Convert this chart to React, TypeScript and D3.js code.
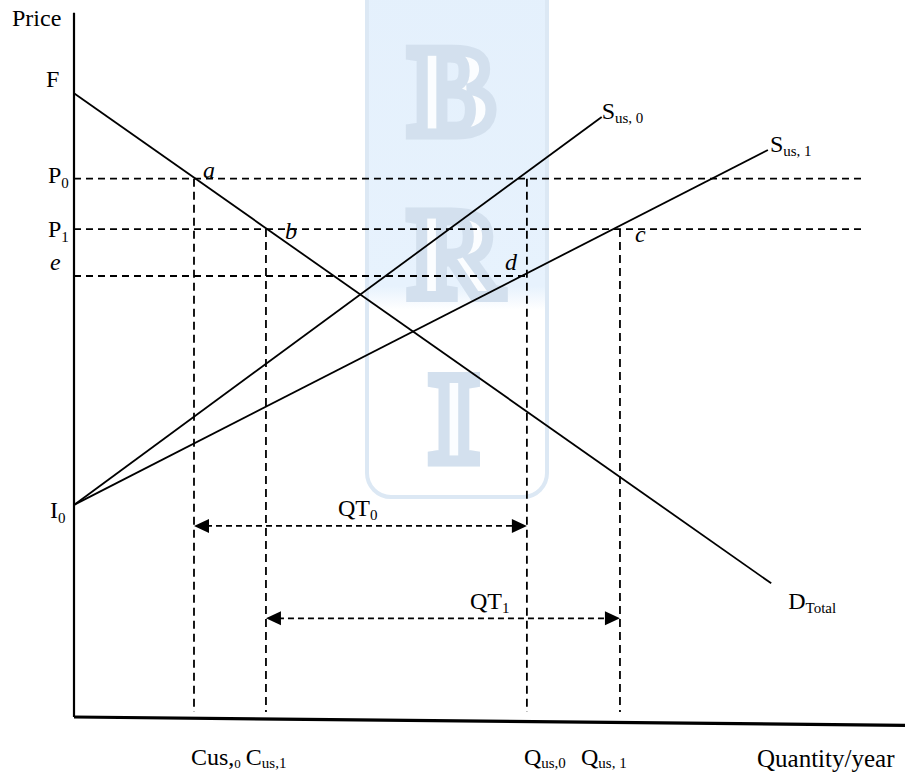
import React from 'react';
import * as d3 from 'd3';

// ---- data (abstract units: quantity 0..100, price 0..100) ----
const demandTotal: [number, number][] = [[0, 89.1], [83.9, 19.1]];
const supplyUs0: [number, number][] = [[0, 30.3], [63.5, 85.7]];
const supplyUs1: [number, number][] = [[0, 30.3], [83.5, 81.0]];
const priceLevels = [
  { name: 'P0', p: 76.9, qEnd: 95.2 },
  { name: 'P1', p: 69.7, qEnd: 95.2 },
  { name: 'e', p: 63.0, qEnd: 54.5 },
];
const quantityLevels = [
  { name: 'Cus0', q: 14.44, pTop: 76.9 },
  { name: 'Cus1', q: 23.1, pTop: 69.7 },
  { name: 'Qus0', q: 54.5, pTop: 76.9 },
  { name: 'Qus1', q: 65.7, pTop: 69.7 },
];
const tradeArrows = [
  { name: 'QT0', p: 27.3, q0: 14.44, q1: 54.5 },
  { name: 'QT1', p: 14.1, q0: 23.1, q1: 65.7 },
];
const xAxisLine: [number, number][] = [[0, 0], [100, -1.2]];
const yAxisTop = 100.6;
const verticalBottom = 0.7;

const SERIF = '"Liberation Serif", "Times New Roman", serif';

export default function App() {
  const x = d3.scaleLinear().domain([0, 100]).range([74, 905]);
  const y = d3.scaleLinear().domain([0, 100]).range([717, 17]);
  const line = d3.line<[number, number]>().x(d => x(d[0])).y(d => y(d[1]));

  const sub = (t: string, fs = 15, dy = 5) => (
    <tspan fontSize={fs} dy={dy}>{t}</tspan>
  );

  const arrowHead = (tipX: number, tipY: number, dir: number) => {
    const len = 15, half = 7;
    return `M${tipX},${tipY}L${tipX - dir * len},${tipY - half}L${tipX - dir * len},${tipY + half}Z`;
  };

  return (
    <svg width={905} height={776} style={{ position: 'absolute', left: 0, top: 0, display: 'block', background: '#fff' }}
      fontFamily={SERIF}>
      <defs>
        <linearGradient id="wm" gradientUnits="userSpaceOnUse" x1="0" y1="-30" x2="0" y2="497">
          <stop offset="0" stopColor="#e4f0fc" />
          <stop offset="0.6" stopColor="#e7f2fd" />
          <stop offset="0.645" stopColor="#ffffff" />
          <stop offset="1" stopColor="#ffffff" />
        </linearGradient>
      </defs>
      {/* watermark */}
      <g>
        <rect x={367} y={-30} width={180} height={527} rx={24} fill="url(#wm)" stroke="#dce8f4" strokeWidth={4} />
        <g fontSize={128} fontWeight="bold" textAnchor="middle" fill="#fbfdff" stroke="#d3e0ee" strokeWidth={11}>
          <text x={452} y={134}>B</text>
          <text x={455} y={296}>R</text>
          <text x={454} y={461}>I</text>
        </g>
      </g>

      {/* axes */}
      <line x1={x(0)} y1={y(yAxisTop)} x2={x(0)} y2={y(0)} stroke="#000" strokeWidth={2.2} />
      <path d={line(xAxisLine) || ''} stroke="#000" strokeWidth={3.2} fill="none" />

      {/* dashed price levels */}
      {priceLevels.map(l => (
        <line key={l.name} x1={x(0)} x2={x(l.qEnd)} y1={y(l.p)} y2={y(l.p)}
          stroke="#000" strokeWidth={1.8} strokeDasharray="7,5" />
      ))}
      {/* dashed quantity levels */}
      {quantityLevels.map(l => (
        <line key={l.name} x1={x(l.q)} x2={x(l.q)} y1={y(l.pTop)} y2={y(verticalBottom)}
          stroke="#000" strokeWidth={1.8} strokeDasharray="8,5" />
      ))}

      {/* curves */}
      {[demandTotal, supplyUs0, supplyUs1].map((d, i) => (
        <path key={i} d={line(d) || ''} fill="none" stroke="#000" strokeWidth={1.8} />
      ))}

      {/* trade arrows */}
      {tradeArrows.map(a => (
        <g key={a.name}>
          <line x1={x(a.q0) + 12} x2={x(a.q1) - 12} y1={y(a.p)} y2={y(a.p)} stroke="#000" strokeWidth={1.8} strokeDasharray="6,4" />
          <path d={arrowHead(x(a.q0), y(a.p), -1)} fill="#000" />
          <path d={arrowHead(x(a.q1), y(a.p), 1)} fill="#000" />
        </g>
      ))}

      {/* labels */}
      <g fontSize={24} fill="#000">
        <text x={12} y={26}>Price</text>
        <text x={46} y={y(demandTotal[0][1]) - 6}>F</text>
        <text x={48} y={y(priceLevels[0].p) + 4}>P{sub('0')}</text>
        <text x={48} y={y(priceLevels[1].p) + 8}>P{sub('1')}</text>
        <text x={50} y={y(priceLevels[2].p) - 6} fontStyle="italic">e</text>
        <text x={50} y={y(supplyUs0[0][1]) + 13}>I{sub('0')}</text>

        <text x={x(quantityLevels[0].q) + 9} y={y(priceLevels[0].p) - 1} fontStyle="italic">a</text>
        <text x={x(quantityLevels[1].q) + 19} y={y(priceLevels[1].p) + 10} fontStyle="italic">b</text>
        <text x={x(quantityLevels[3].q) + 15} y={y(priceLevels[1].p) + 13} fontStyle="italic">c</text>
        <text x={x(quantityLevels[2].q) - 22} y={y(priceLevels[2].p) - 6} fontStyle="italic">d</text>

        <text x={x(supplyUs0[1][0])} y={y(supplyUs0[1][1]) + 2}>S{sub('us, 0', 15, 4)}</text>
        <text x={x(supplyUs1[1][0]) + 2} y={y(supplyUs1[1][1]) + 2}>S{sub('us, 1', 15, 4)}</text>
        <text x={x(demandTotal[1][0]) + 17} y={y(demandTotal[1][1]) + 26}>D{sub('Total', 15, 4)}</text>

        <text x={x(tradeArrows[0].q0) + 144} y={y(tradeArrows[0].p) - 10}>QT{sub('0', 15, 4)}</text>
        <text x={x(tradeArrows[1].q0) + 204} y={y(tradeArrows[1].p) - 9}>QT{sub('1', 15, 4)}</text>

        <text x={x(quantityLevels[0].q) - 3} y={765}>Cus,{sub('0', 13, 3)}<tspan dy={-3} dx={5} fontSize={24}>C</tspan>{sub('us,1', 15, 3)}</text>
        <text x={x(quantityLevels[2].q) - 3} y={765}>Q{sub('us,0', 15, 3)}</text>
        <text x={x(quantityLevels[3].q) - 39} y={765}>Q{sub('us, 1', 15, 3)}</text>
        <text x={757} y={767} fontSize={25}>Quantity/year</text>
      </g>
    </svg>
  );
}
